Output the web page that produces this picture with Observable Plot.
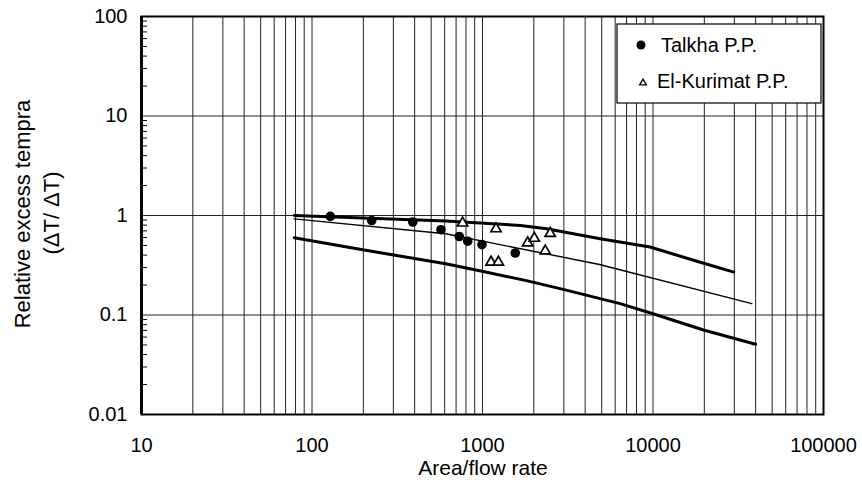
<!DOCTYPE html>
<html><head><meta charset="utf-8">
<script src="https://cdn.jsdelivr.net/npm/d3@7"></script>
<script src="https://cdn.jsdelivr.net/npm/@observablehq/plot@0.6"></script>
<style>
body{margin:0;background:#fff;}
#wrap{position:relative;width:862px;height:488px;}
</style></head><body><div id="wrap"></div>
<script>
// ---- data ----
const xTicks = [10, 100, 1000, 10000, 100000];
const xTickLabels = ["10", "100", "1000", "10000", "100000"];
const yTicks = [0.01, 0.1, 1, 10, 100];
const yTickLabels = ["0.01", "0.1", "1", "10", "100"];
const seriesNames = ["Talkha P.P.", "El-Kurimat P.P."];

const talkhaX = [128, 224, 390, 571, 731, 819, 993, 1556];
const talkhaY = [0.98, 0.89, 0.86, 0.72, 0.615, 0.552, 0.51, 0.42];

const kurimatX = [764, 1200, 1122, 1239, 1840, 2013, 2334, 2495];
const kurimatY = [0.84, 0.735, 0.34, 0.34, 0.53, 0.59, 0.44, 0.66];

const upperX = [78.7, 608, 1671, 2377, 4900, 9600, 19600, 29800];
const upperY = [1.0, 0.88, 0.795, 0.736, 0.585, 0.482, 0.333, 0.27];

const middleX = [78.7, 608, 4853, 38000];
const middleY = [0.926, 0.655, 0.322, 0.13];

const lowerX = [78.7, 206, 608, 1043, 1782, 2972, 6410, 10000, 20000, 40000];
const lowerY = [0.598, 0.447, 0.328, 0.27, 0.223, 0.181, 0.13, 0.103, 0.0703, 0.0508];

// ---- derived tables ----
const zip = (xs, ys) => xs.map((x, i) => ({x, y: ys[i]}));
const talkha = zip(talkhaX, talkhaY);
const kurimat = zip(kurimatX, kurimatY);
const upper = zip(upperX, upperY);
const middle = zip(middleX, middleY);
const lower = zip(lowerX, lowerY);

const mult = [1, 2, 3, 4, 5, 6, 7, 8, 9];
const xGrid = xTicks.slice(0, -1).flatMap(d => mult.map(k => d * k)).filter(v => v > 10);
const yMinor = yTicks.slice(0, -1).flatMap(d => mult.slice(1).map(k => d * k));

const font = "'Liberation Sans', Arial, sans-serif";

const plot = Plot.plot({
  width: 862, height: 488,
  marginLeft: 141, marginRight: 39, marginTop: 16, marginBottom: 74,
  style: {fontFamily: font, fontSize: "20px", color: "#000", background: "#fff"},
  x: {type: "log", domain: [10, 100000]},
  y: {type: "log", domain: [0.01, 100]},
  marks: [
    Plot.ruleX(xGrid, {stroke: "#222", strokeWidth: 1}),
    Plot.ruleY(yTicks.slice(1, -1), {stroke: "#222", strokeWidth: 1}),
    Plot.axisY({ticks: yMinor, tickSize: 6, dx: 6, text: null, label: null, stroke: "#000"}),
    Plot.axisX({ticks: xTicks, tickFormat: (d) => xTickLabels[xTicks.indexOf(d)], tickSize: 0, tickPadding: 23, label: null, fontSize: 20}),
    Plot.axisY({ticks: yTicks, tickFormat: (d) => yTickLabels[yTicks.indexOf(d)], tickSize: 0, tickPadding: 14, label: null, fontSize: 20}),
    Plot.line(upper, {x: "x", y: "y", stroke: "#000", strokeWidth: 3}),
    Plot.line(middle, {x: "x", y: "y", stroke: "#000", strokeWidth: 1.4}),
    Plot.line(lower, {x: "x", y: "y", stroke: "#000", strokeWidth: 3}),
    Plot.dot(talkha, {x: "x", y: "y", r: 4.8, fill: "#000", stroke: "none"}),
    Plot.dot(kurimat, {x: "x", y: "y", r: 3.8, symbol: "triangle", fill: "#fff", stroke: "#000", strokeWidth: 1.7}),
    Plot.frame({stroke: "#000", strokeWidth: 2}),
    Plot.ruleX([10], {stroke: "#000", strokeWidth: 3})
  ]
});
document.getElementById("wrap").appendChild(plot);

const svg = d3.select(plot);
// axis titles
svg.append("text").attr("x", 483).attr("y", 467).attr("text-anchor", "middle")
  .attr("dominant-baseline", "central").attr("font-family", font).attr("font-size", 21)
  .text("Area/flow rate");
const yt = svg.append("g").attr("font-family", font).attr("font-size", 22).attr("text-anchor", "middle");
yt.append("text").attr("transform", "translate(22,214) rotate(-90)").attr("dominant-baseline", "central")
  .text("Relative excess tempra");
yt.append("text").attr("transform", "translate(51,213) rotate(-90)").attr("dominant-baseline", "central")
  .text("(ΔT/ ΔT)");

// legend
const lg = svg.append("g").attr("font-family", font).attr("font-size", 20).attr("text-anchor", "start");
lg.append("rect").attr("x", 617).attr("y", 24).attr("width", 204).attr("height", 79)
  .attr("fill", "#fff").attr("stroke", "#000").attr("stroke-width", 1.2);
lg.append("circle").attr("cx", 641).attr("cy", 45).attr("r", 4.5).attr("fill", "#000");
lg.append("text").attr("x", 661).attr("y", 45).attr("dominant-baseline", "central").attr("text-anchor", "start").text(seriesNames[0]);
lg.append("path").attr("d", d3.symbol(d3.symbolTriangle, 20)()).attr("transform", "translate(643,83)")
  .attr("fill", "#fff").attr("stroke", "#000").attr("stroke-width", 1.3);
lg.append("text").attr("x", 657).attr("y", 81).attr("dominant-baseline", "central").attr("text-anchor", "start").text(seriesNames[1]);
</script></body></html>
